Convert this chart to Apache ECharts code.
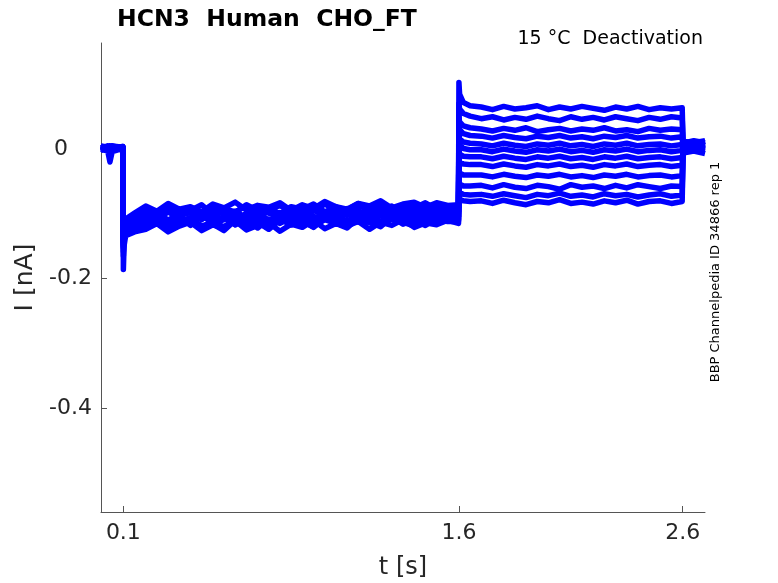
<!DOCTYPE html>
<html>
<head>
<meta charset="utf-8">
<script src="https://cdn.jsdelivr.net/npm/echarts@6/dist/echarts.min.js"></script>
<style>
  html, body { margin: 0; padding: 0; background: #fff; }
  #chart { width: 778px; height: 583px; }
</style>
</head>
<body>
<div id="chart"></div>
<script>
// time points [s], shared by every sweep
const times = [
  0, 0.03, 0.04, 0.05, 0.098,
  0.1, 0.103, 0.11, 0.15,
  0.2, 0.25, 0.3, 0.35, 0.4, 0.45, 0.5, 0.55, 0.6, 0.65, 0.7, 0.75, 0.8, 0.85,
  0.9, 0.95, 1.0, 1.05, 1.1, 1.15, 1.2, 1.25, 1.3, 1.35, 1.4, 1.45, 1.5, 1.55,
  1.598,
  1.6, 1.603, 1.62, 1.65,
  1.7, 1.75, 1.8, 1.85, 1.9, 1.95, 2.0, 2.05, 2.1, 2.15, 2.2, 2.25, 2.3, 2.35, 2.4, 2.45, 2.5, 2.55,
  2.598,
  2.602, 2.65, 2.7
];

// current [nA] of each sweep
const sweep1 = [
  0.004, 0.002, 0.003, 0.005, 0.003,
  -0.150, -0.135, -0.126, -0.118,
  -0.112, -0.101, -0.115, -0.104, -0.118, -0.099, -0.110, -0.106, -0.117, -0.100, -0.109, -0.114, -0.098, -0.111,
  -0.103, -0.116, -0.100, -0.108, -0.113, -0.097, -0.106, -0.112, -0.099, -0.104, -0.110, -0.096, -0.107, -0.101,
  -0.104,
  0.103, 0.085, 0.072, 0.067,
  0.065, 0.061, 0.066, 0.062, 0.064, 0.067, 0.061, 0.065, 0.062, 0.066, 0.063, 0.060, 0.065, 0.062, 0.066, 0.061, 0.064, 0.062,
  0.064,
  0.008, 0.004, 0.006
];
const sweep2 = [
  0.001, 0.004, -0.002, 0.002, 0.000,
  -0.140, -0.128, -0.118, -0.110,
  -0.095, -0.106, -0.092, -0.103, -0.098, -0.109, -0.090, -0.101, -0.096, -0.107, -0.093, -0.099, -0.105, -0.091,
  -0.100, -0.094, -0.104, -0.089, -0.098, -0.103, -0.092, -0.097, -0.088, -0.102, -0.094, -0.090, -0.099, -0.093,
  -0.096,
  0.070, 0.062, 0.055, 0.051,
  0.047, 0.050, 0.045, 0.049, 0.046, 0.051, 0.047, 0.044, 0.050, 0.046, 0.049, 0.045, 0.050, 0.047, 0.044, 0.049, 0.046, 0.050,
  0.048,
  0.012, 0.010, 0.013
];
const sweep3 = [
  -0.002, 0.001, 0.003, -0.001, 0.002,
  -0.165, -0.140, -0.130, -0.124,
  -0.121, -0.112, -0.125, -0.116, -0.110, -0.123, -0.114, -0.120, -0.108, -0.119, -0.113, -0.124, -0.109, -0.117,
  -0.111, -0.121, -0.106, -0.115, -0.119, -0.108, -0.113, -0.120, -0.105, -0.116, -0.110, -0.118, -0.107, -0.112,
  -0.112,
  0.050, 0.042, 0.036, 0.033,
  0.031, 0.028, 0.032, 0.029, 0.033, 0.027, 0.030, 0.032, 0.028, 0.031, 0.029, 0.033, 0.028, 0.030, 0.027, 0.032, 0.029, 0.031,
  0.030,
  0.002, 0.005, 0.001
];
const sweep4 = [
  0.003, 0.000, 0.005, 0.002, 0.004,
  -0.135, -0.122, -0.112, -0.104,
  -0.090, -0.099, -0.087, -0.096, -0.092, -0.101, -0.088, -0.094, -0.098, -0.086, -0.095, -0.091, -0.100, -0.089,
  -0.093, -0.085, -0.097, -0.090, -0.094, -0.084, -0.092, -0.088, -0.096, -0.086, -0.091, -0.083, -0.093, -0.089,
  -0.090,
  0.040, 0.030, 0.024, 0.021,
  0.020, 0.017, 0.021, 0.018, 0.016, 0.020, 0.018, 0.021, 0.017, 0.019, 0.016, 0.020, 0.018, 0.021, 0.017, 0.019, 0.020, 0.017,
  0.019,
  -0.004, -0.001, -0.003
];
const sweep5 = [
  0.000, -0.003, -0.020, -0.004, 0.001,
  -0.186, -0.150, -0.134, -0.128,
  -0.124, -0.115, -0.128, -0.119, -0.113, -0.126, -0.117, -0.122, -0.111, -0.125, -0.118, -0.114, -0.127, -0.116,
  -0.121, -0.110, -0.123, -0.115, -0.119, -0.112, -0.124, -0.113, -0.118, -0.109, -0.121, -0.114, -0.117, -0.110,
  -0.115,
  0.025, 0.016, 0.011, 0.009,
  0.008, 0.005, 0.009, 0.006, 0.004, 0.008, 0.006, 0.009, 0.005, 0.007, 0.004, 0.008, 0.006, 0.009, 0.005, 0.007, 0.008, 0.005,
  0.007,
  0.006, 0.009, 0.005
];
const sweep6 = [
  0.005, 0.003, 0.001, 0.004, 0.002,
  -0.145, -0.130, -0.120, -0.113,
  -0.101, -0.110, -0.097, -0.107, -0.112, -0.099, -0.105, -0.094, -0.108, -0.102, -0.096, -0.111, -0.100, -0.106,
  -0.093, -0.104, -0.109, -0.098, -0.102, -0.095, -0.107, -0.099, -0.092, -0.105, -0.097, -0.101, -0.094, -0.103,
  -0.100,
  0.015, 0.006, 0.001, -0.001,
  -0.001, -0.004, 0.000, -0.003, -0.005, -0.001, -0.003, 0.000, -0.004, -0.002, -0.005, -0.001, -0.003, 0.000, -0.004, -0.002, -0.001, -0.004,
  -0.002,
  0.011, 0.008, 0.012
];
const sweep7 = [
  -0.001, 0.002, 0.000, 0.003, -0.002,
  -0.158, -0.142, -0.128, -0.121,
  -0.118, -0.109, -0.121, -0.112, -0.106, -0.119, -0.113, -0.104, -0.117, -0.110, -0.122, -0.108, -0.115, -0.105,
  -0.118, -0.111, -0.103, -0.116, -0.109, -0.113, -0.102, -0.114, -0.107, -0.111, -0.101, -0.112, -0.106, -0.109,
  -0.108,
  0.000, -0.008, -0.011, -0.012,
  -0.012, -0.015, -0.011, -0.014, -0.016, -0.012, -0.014, -0.011, -0.015, -0.013, -0.016, -0.012, -0.014, -0.011, -0.015, -0.013, -0.012, -0.015,
  -0.013,
  -0.006, -0.003, -0.007
];
const sweep8 = [
  0.002, 0.005, 0.003, 0.000, 0.004,
  -0.138, -0.125, -0.115, -0.107,
  -0.093, -0.102, -0.089, -0.099, -0.095, -0.086, -0.101, -0.092, -0.097, -0.088, -0.100, -0.094, -0.087, -0.098,
  -0.091, -0.096, -0.085, -0.094, -0.099, -0.088, -0.093, -0.084, -0.097, -0.090, -0.086, -0.095, -0.089, -0.092,
  -0.091,
  -0.012, -0.020, -0.023, -0.024,
  -0.024, -0.027, -0.023, -0.026, -0.028, -0.024, -0.026, -0.023, -0.027, -0.025, -0.028, -0.024, -0.026, -0.023, -0.027, -0.025, -0.024, -0.027,
  -0.025,
  0.004, 0.001, 0.003
];
const sweep9 = [
  0.001, -0.001, 0.004, 0.001, 0.003,
  -0.152, -0.136, -0.124, -0.116,
  -0.114, -0.105, -0.117, -0.108, -0.112, -0.102, -0.115, -0.109, -0.100, -0.113, -0.106, -0.118, -0.104, -0.110,
  -0.101, -0.114, -0.107, -0.111, -0.099, -0.108, -0.113, -0.103, -0.109, -0.098, -0.106, -0.111, -0.100, -0.105,
  -0.104,
  -0.030, -0.037, -0.040, -0.040,
  -0.040, -0.043, -0.039, -0.042, -0.044, -0.040, -0.042, -0.039, -0.043, -0.041, -0.044, -0.040, -0.042, -0.039, -0.043, -0.041, -0.040, -0.043,
  -0.041,
  0.009, 0.013, 0.010
];
const sweep10 = [
  0.004, 0.001, 0.002, 0.005, 0.001,
  -0.132, -0.120, -0.108, -0.099,
  -0.088, -0.096, -0.084, -0.093, -0.089, -0.097, -0.085, -0.091, -0.082, -0.094, -0.087, -0.090, -0.083, -0.095,
  -0.086, -0.092, -0.081, -0.089, -0.093, -0.084, -0.088, -0.080, -0.091, -0.085, -0.082, -0.090, -0.083, -0.087,
  -0.086,
  -0.048, -0.054, -0.057, -0.057,
  -0.056, -0.060, -0.055, -0.059, -0.061, -0.056, -0.058, -0.062, -0.055, -0.059, -0.057, -0.061, -0.056, -0.060, -0.055, -0.058, -0.061, -0.057,
  -0.058,
  -0.002, 0.002, -0.001
];
const sweep11 = [
  0.002, 0.004, 0.000, 0.003, 0.001,
  -0.148, -0.134, -0.123, -0.119,
  -0.120, -0.111, -0.124, -0.114, -0.108, -0.121, -0.116, -0.126, -0.110, -0.118, -0.113, -0.123, -0.107, -0.117,
  -0.112, -0.120, -0.109, -0.115, -0.122, -0.106, -0.114, -0.118, -0.108, -0.113, -0.119, -0.105, -0.112, -0.109,
  -0.110,
  -0.062, -0.067, -0.070, -0.071,
  -0.070, -0.073, -0.069, -0.072, -0.075, -0.070, -0.072, -0.068, -0.073, -0.071, -0.074, -0.069, -0.072, -0.070, -0.074, -0.071, -0.069, -0.073,
  -0.071,
  0.007, 0.004, 0.008
];
const sweep12 = [
  0.003, 0.001, 0.004, 0.002, 0.000,
  -0.142, -0.131, -0.119, -0.111,
  -0.106, -0.097, -0.110, -0.100, -0.094, -0.108, -0.103, -0.096, -0.111, -0.099, -0.105, -0.093, -0.107, -0.101,
  -0.095, -0.109, -0.098, -0.104, -0.092, -0.106, -0.100, -0.096, -0.103, -0.091, -0.099, -0.105, -0.094, -0.098,
  -0.097,
  -0.072, -0.077, -0.080, -0.081,
  -0.080, -0.084, -0.079, -0.083, -0.086, -0.081, -0.083, -0.078, -0.084, -0.082, -0.085, -0.080, -0.083, -0.079, -0.085, -0.081, -0.080, -0.084,
  -0.081,
  -0.005, -0.002, 0.000
];
const sweeps = [sweep1, sweep2, sweep3, sweep4, sweep5, sweep6, sweep7, sweep8, sweep9, sweep10, sweep11, sweep12];

// tick labels
const xTicks = [0.1, 1.6, 2.6];
const yTicks = [-0.4, -0.2, 0];

sweeps.forEach((s, k) => {
  if (s.length !== times.length) throw new Error('sweep' + (k + 1) + ' has ' + s.length + ' values, expected ' + times.length);
});

const axisColor = '#555555';
const textColor = '#262626';
const font = 'DejaVu Sans';

const chart = echarts.init(document.getElementById('chart'), null, { renderer: 'canvas' });

chart.setOption({
  animation: false,
  backgroundColor: '#ffffff',
  title: {
    text: 'HCN3  Human  CHO_FT',
    left: 112,
    top: 3,
    textStyle: { fontFamily: font, fontSize: 23.5, fontWeight: 'bold', color: '#000' }
  },
  grid: { left: 101, right: 73, top: 43, bottom: 71, outerBoundsMode: 'none' },
  xAxis: {
    type: 'value',
    min: 0,
    max: 2.7,
    name: 't [s]',
    nameLocation: 'middle',
    nameGap: 44,
    nameTextStyle: { fontFamily: font, fontSize: 24, color: textColor },
    axisLine: { show: true, onZero: false, lineStyle: { color: axisColor, width: 1 } },
    axisTick: { show: true, inside: true, length: 6, customValues: xTicks, lineStyle: { color: axisColor } },
    axisLabel: {
      customValues: xTicks,
      margin: 10,
      fontFamily: font, fontSize: 22, color: textColor,
      formatter: v => String(v)
    },
    splitLine: { show: false }
  },
  yAxis: {
    type: 'value',
    min: -0.561,
    max: 0.164,
    name: 'I [nA]',
    nameLocation: 'middle',
    nameGap: 62,
    nameRotate: 90,
    nameTextStyle: { fontFamily: font, fontSize: 25, color: textColor },
    axisLine: { show: true, onZero: false, lineStyle: { color: axisColor, width: 1 } },
    axisTick: { show: true, inside: true, length: 6, customValues: yTicks, lineStyle: { color: axisColor } },
    axisLabel: {
      customValues: yTicks,
      margin: 9,
      fontFamily: font, fontSize: 22, color: textColor,
      formatter: v => (v === 0 ? '{z|0}' : String(v)),
      rich: { z: { fontFamily: font, fontSize: 22, color: textColor, padding: [0, 24, 0, 0] } }
    },
    splitLine: { show: false }
  },
  graphic: [
    {
      type: 'text',
      right: 75,
      top: 30,
      style: { text: '15 °C  Deactivation', font: '19px "DejaVu Sans"', fill: '#000' }
    },
    {
      type: 'text',
      x: 716,
      y: 272,
      rotation: Math.PI / 2,
      style: {
        text: 'BBP Channelpedia ID 34866 rep 1',
        font: '13px "DejaVu Sans"',
        fill: '#000',
        align: 'center',
        verticalAlign: 'middle'
      }
    }
  ],
  series: sweeps.map(s => ({
    type: 'line',
    data: times.map((t, i) => [t, s[i]]),
    showSymbol: false,
    symbol: 'none',
    sampling: null,
    lineStyle: { color: '#0000ff', width: 5.5, join: 'round' },
    emphasis: { disabled: true },
    silent: true
  }))
});
</script>
</body>
</html>
